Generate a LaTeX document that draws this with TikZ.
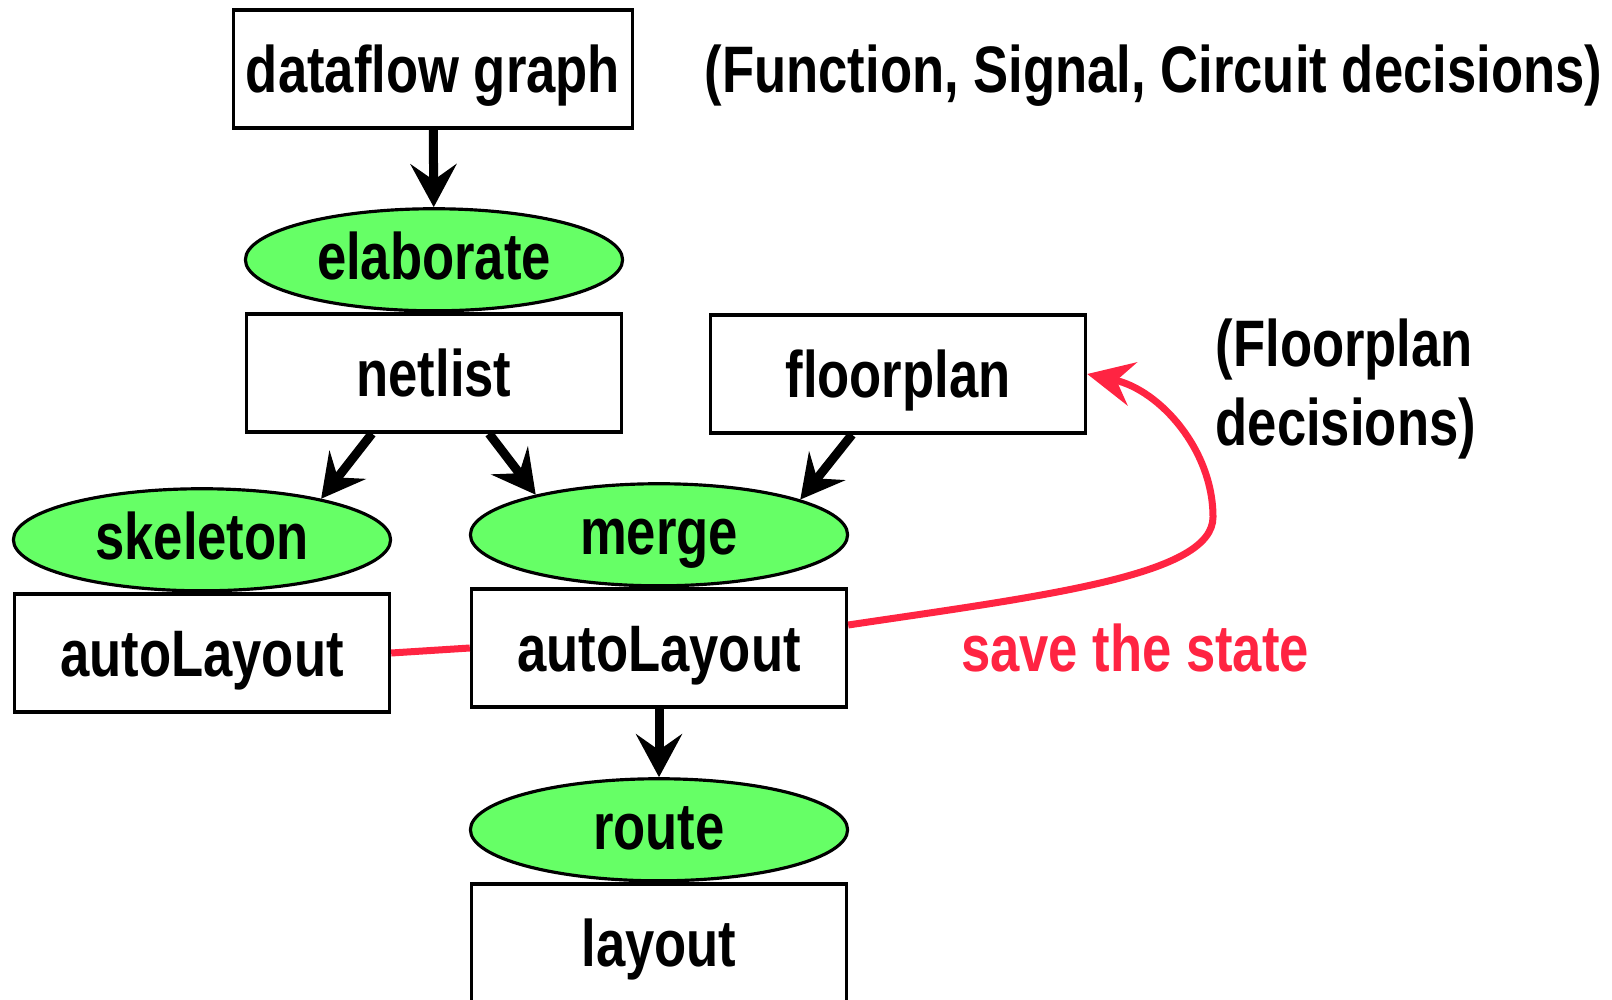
\documentclass[tikz,border=0pt]{standalone}
\usepackage{fontspec}
\setmainfont{Liberation Sans}[FakeStretch=0.80]
\usepackage{tikz}
\usetikzlibrary{arrows.meta,positioning,shapes.geometric}
\definecolor{Leaf}{HTML}{66FF66}
\definecolor{Alert}{HTML}{FF2442}
\tikzset{
  stepbox/.style={draw,line width=0.9pt,fill=white,minimum width=3.75cm,
              minimum height=1.18cm,inner sep=2pt,text height=0.50cm,text depth=0.04cm,
              font=\fontsize{18.7}{22}\selectfont\bfseries},
  tool/.style={ellipse,draw,line width=0.9pt,fill=Leaf,minimum width=3.77cm,
              minimum height=1.02cm,inner sep=0pt,text height=0.47cm,text depth=0.07cm,
              font=\fontsize{18.7}{22}\selectfont\bfseries},
  flow/.style={-{Stealth[length=4.3mm,width=4.6mm,inset=1.6mm]},line width=0.09cm},
  saveflow/.style={-{Stealth[length=4.6mm,width=4.4mm,inset=1.6mm]},line width=0.07cm,draw=Alert},
  note/.style={font=\fontsize{18.7}{22.5}\selectfont\bfseries,align=left,inner sep=0pt},
  rednote/.style={note,text=Alert}
}

\begin{document}
\begin{tikzpicture}[x=0.01cm,y=-0.01cm]
  \useasboundingbox (0,0) rectangle (1612,1000);
  \clip (0,0) rectangle (1612,1000);

  \node[stepbox,minimum width=3.99cm] (dataflow) at (433,69) {dataflow graph};
  \node[note,anchor=west] (decisions) at (704,76) {(Function, Signal, Circuit decisions)};
  \node[stepbox] (netlist) at (434,373) {netlist};
  \node[tool,above=0pt of netlist] (elaborate) {elaborate};
  \node[stepbox] (floorplan) at (898,374) {floorplan};
  \node[note,anchor=west] (fpnote) at (1215,389) {(Floorplan\\decisions)};
  \node[stepbox] (autoL) at (202,653) {autoLayout};
  \node[tool,above=0pt of autoL] (skeleton) {skeleton};
  \node[stepbox] (autoR) at (659,648) {autoLayout};
  \node[tool,above=0pt of autoR] (merge) {merge};
  \node[stepbox] (layout) at (659,943) {layout};
  \node[tool,above=0pt of layout] (route) {route};
  \node[rednote] (savestate) at (1135,648) {save the state};

  \draw[flow] (dataflow) -- (elaborate);
  \draw[flow] ([xshift=-0.62cm]netlist.south) -- (skeleton.19);
  \draw[flow] ([xshift=0.55cm]netlist.south) -- (merge.162);
  \draw[flow] ([xshift=-0.46cm]floorplan.south) -- (merge.14);
  \draw[flow] (autoR) -- (route);
  \draw[line width=0.07cm,draw=Alert] (autoL.east) -- (autoR.west);
  \draw[saveflow] ([yshift=0.23cm]autoR.east) .. controls (1050,595) and (1213,575) .. (1213,517)
    .. controls (1213,450) and (1160,390) .. (floorplan.east);
\end{tikzpicture}
\end{document}
